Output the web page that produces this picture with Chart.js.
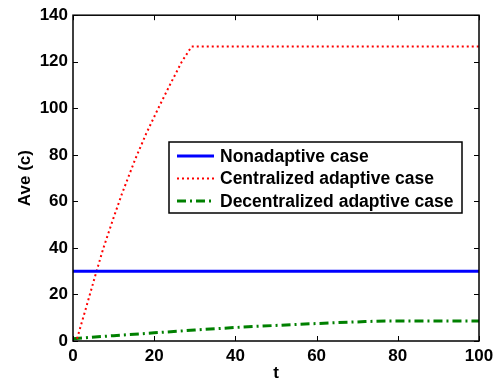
<!DOCTYPE html>
<html>
<head>
<meta charset="utf-8">
<script src="https://cdn.jsdelivr.net/npm/chart.js@4.4.0/dist/chart.umd.min.js"></script>
<style>
  html, body { margin: 0; padding: 0; background: #fff; }
  #wrap { width: 500px; height: 385px; }
</style>
</head>
<body>
<div id="wrap"><canvas id="canvas1"></canvas></div>
<script>
// data
var tNonadaptive = [0, 100];
var nonadaptive = [30, 30];

var tCentral = [1, 3.5, 5.8, 7.5, 10, 12, 15.3, 18, 21, 24, 26.8, 29.2, 40, 60, 80, 100];
var central = [1, 16, 30, 40, 53, 63, 78, 89, 100, 110.5, 120, 126.5, 126.5, 126.5, 126.5, 126.5];

var tDecentral = [0, 10, 20, 30, 40, 50, 60, 70, 78, 90, 100];
var decentral = [1, 2.3, 3.5, 4.7, 5.8, 6.7, 7.5, 8.2, 8.6, 8.6, 8.6];

var xTicks = [0, 20, 40, 60, 80, 100];
var yTicks = [0, 20, 40, 60, 80, 100, 120, 140];

var labels = ['Nonadaptive case', 'Centralized adaptive case', 'Decentralized adaptive case'];

function pts(xs, ys) {
  return xs.map(function (x, i) { return { x: x, y: ys[i] }; });
}

var fontBold = { family: 'Liberation Sans, Arial, sans-serif', size: 17, weight: 'bold' };

// MATLAB style box, inward ticks and legend inside the axes
var matlabBox = {
  id: 'matlabBox',
  afterDatasetsDraw: function (chart) {
    var c = chart.ctx, a = chart.chartArea;
    var xs = chart.scales.x, ys = chart.scales.y;
    c.save();
    c.strokeStyle = '#000';
    c.lineWidth = 1;
    c.beginPath();
    xTicks.forEach(function (v) {
      var px = Math.round(xs.getPixelForValue(v)) + 0.5;
      c.moveTo(px, a.bottom); c.lineTo(px, a.bottom - 5);
      c.moveTo(px, a.top); c.lineTo(px, a.top + 5);
    });
    yTicks.forEach(function (v) {
      var py = Math.round(ys.getPixelForValue(v)) + 0.5;
      c.moveTo(a.left, py); c.lineTo(a.left + 5, py);
      c.moveTo(a.right, py); c.lineTo(a.right - 5, py);
    });
    c.stroke();
    c.lineWidth = 1.5;
    c.strokeRect(a.left, a.top, a.right - a.left, a.bottom - a.top);

    // legend
    var lx = 169, ly = 142, lw = 293, lh = 71;
    c.fillStyle = '#fff';
    c.fillRect(lx, ly, lw, lh);
    c.lineWidth = 1.5;
    c.strokeStyle = '#000';
    c.strokeRect(lx, ly, lw, lh);
    c.font = 'bold 17.5px "Liberation Sans", Arial, sans-serif';
    c.textBaseline = 'middle';
    chart.data.datasets.forEach(function (ds, i) {
      var y = ly + 14 + i * 22.5;
      c.beginPath();
      c.setLineDash(ds.borderDash || []);
      c.strokeStyle = ds.borderColor;
      c.lineWidth = ds.borderWidth;
      c.moveTo(lx + 8, y); c.lineTo(lx + 45, y);
      c.stroke();
      c.setLineDash([]);
      c.fillStyle = '#000';
      c.fillText(ds.label, lx + 51, y + 1);
    });
    c.restore();
  }
};

var ctx = document.getElementById('canvas1').getContext('2d');
var myChart = new Chart(ctx, {
  type: 'line',
  data: {
    datasets: [{
      label: labels[0],
      data: pts(tNonadaptive, nonadaptive),
      borderColor: 'rgb(0,0,255)',
      borderWidth: 3,
      pointRadius: 0
    }, {
      label: labels[1],
      data: pts(tCentral, central),
      borderColor: 'rgb(255,0,0)',
      borderWidth: 2,
      borderDash: [2, 3],
      pointRadius: 0
    }, {
      label: labels[2],
      data: pts(tDecentral, decentral),
      borderColor: 'rgb(0,128,0)',
      borderWidth: 3,
      borderDash: [9, 4, 2, 4],
      pointRadius: 0,
      cubicInterpolationMode: 'monotone'
    }]
  },
  options: {
    responsive: true,
    maintainAspectRatio: false,
    animation: false,
    layout: { padding: { left: 0, right: 21, top: 12, bottom: 0 } },
    plugins: {
      legend: { display: false },
      tooltip: { enabled: false }
    },
    scales: {
      x: {
        type: 'linear',
        min: 0, max: 100,
        grid: { display: false, drawTicks: false },
        border: { display: false },
        afterBuildTicks: function (s) { s.ticks = xTicks.map(function (v) { return { value: v }; }); },
        afterFit: function (s) { s.height = 44; },
        ticks: { color: '#000', font: fontBold, padding: 5, maxRotation: 0 },
        title: { display: true, text: 't', color: '#000', font: fontBold, padding: { top: 0, bottom: 1 } }
      },
      y: {
        min: 0, max: 140,
        grid: { display: false, drawTicks: false },
        border: { display: false },
        afterBuildTicks: function (s) { s.ticks = yTicks.map(function (v) { return { value: v }; }); },
        afterFit: function (s) { s.width = 73; },
        ticks: { color: '#000', font: fontBold, padding: 5 },
        title: { display: true, text: 'Ave (c)', color: '#000', font: fontBold, padding: { top: 15, bottom: 0 } }
      }
    }
  },
  plugins: [matlabBox]
});
</script>
</body>
</html>
